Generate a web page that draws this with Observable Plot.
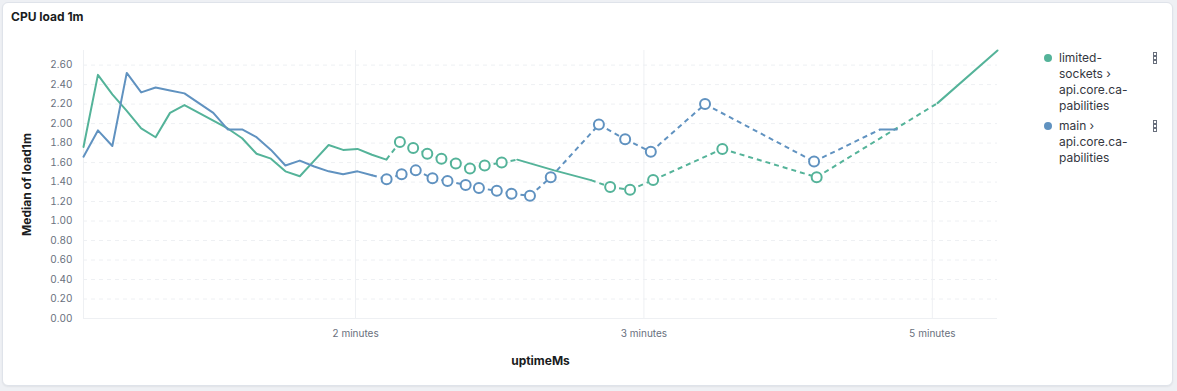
<!DOCTYPE html>
<html>
<head>
<meta charset="utf-8">
<script src="https://cdn.jsdelivr.net/npm/d3@7"></script>
<script src="https://cdn.jsdelivr.net/npm/@observablehq/plot@0.6"></script>
<style>
  html, body { margin: 0; padding: 0; }
  body { width: 1177px; height: 391px; background: #eef0f4; font-family: Inter, "Noto Sans", sans-serif; overflow: hidden; position: relative; }
  #card { position: absolute; left: 2px; top: 2px; width: 1169px; height: 382px; background: #fff; border: 1px solid #dfe3ea; border-radius: 6px; box-shadow: 0 1px 2px rgba(0,0,0,0.06); }
  #title { position: absolute; left: 8px; top: 6px; font-size: 12px; font-weight: 700; color: #1a1c21; }
  #chart { position: absolute; left: -3px; top: 27px; }
  #legend { position: absolute; left: 1036px; top: 47px; width: 130px; font-size: 12px; color: #343741; line-height: 16px; }
  .item { position: relative; padding-left: 20px; margin-bottom: 4px; }
  .swatch { position: absolute; left: 5px; top: 4px; width: 8px; height: 8px; border-radius: 50%; }
  .menu { position: absolute; left: 114px; top: 2px; width: 4px; }
  .menu i { display: block; width: 2px; height: 2px; border: 1px solid #69707d; margin-bottom: 0px; }
</style>
</head>
<body>
<div id="card">
  <div id="title">CPU load 1m</div>
  <div id="chart"></div>
  <div id="legend"></div>
</div>
<script>
// ---- data (uptimeMs, median load1m); null marks a missing bucket ----
const seriesNames = ["limited-sockets › api.core.capabilities", "main › api.core.capabilities"];
const legendLines = [["limited-", "sockets ›", "api.core.ca-", "pabilities"], ["main ›", "api.core.ca-", "pabilities"]];
const seriesColors = ["#54B399", "#6092C0"];

const limitedX = [5700, 10700, 15700, 20700, 25700, 30700, 35700, 40700, 45700, 50700, 55700, 60700, 65700, 70700, 75700, 80700, 85700, 90700, 95700, 100700, 105700, 110700,
  null, 115400, null, 120000, null, 124900, null, 129800, null, 134800, null, 139700, null, 144800, null, 150700, null,
  156100, 168900, 181600, null,
  188300, null, 195200, null, 203200, null, 227200, null, 259900, null,
  301800, 322600];
const limitedY = [1.76, 2.50, 2.30, 2.13, 1.95, 1.86, 2.11, 2.19, 2.11, 2.03, 1.95, 1.85, 1.69, 1.64, 1.51, 1.46, 1.62, 1.78, 1.73, 1.74, 1.68, 1.63,
  null, 1.81, null, 1.75, null, 1.69, null, 1.64, null, 1.59, null, 1.54, null, 1.57, null, 1.60, null,
  1.63, 1.52, 1.42, null,
  1.35, null, 1.32, null, 1.42, null, 1.74, null, 1.45, null,
  2.21, 2.75];

const mainX = [5700, 10700, 15700, 20700, 25700, 30700, 35700, 40700, 45700, 50700, 55700, 60700, 65700, 70700, 75700, 80700, 85700, 90700, 95700, 100700, 105700,
  null, 110800, null, 116000, null, 120900, null, 126700, null, 131900, null, 138200, null, 142800, null, 149000, null, 154100, null, 160500, null, 167700, null,
  184400, null, 193500, null, 202400, null, 221200, null, 259000, null,
  281900, 287700];
const mainY = [1.66, 1.93, 1.77, 2.52, 2.32, 2.37, 2.34, 2.31, 2.21, 2.11, 1.94, 1.94, 1.86, 1.73, 1.57, 1.62, 1.56, 1.51, 1.48, 1.51, 1.47,
  null, 1.43, null, 1.48, null, 1.52, null, 1.44, null, 1.41, null, 1.37, null, 1.34, null, 1.31, null, 1.28, null, 1.26, null, 1.45, null,
  1.99, null, 1.84, null, 1.71, null, 2.20, null, 1.61, null,
  1.94, 1.94];

const yTicks = [0, 0.2, 0.4, 0.6, 0.8, 1.0, 1.2, 1.4, 1.6, 1.8, 2.0, 2.2, 2.4, 2.6];
const xTicks = [100000, 200000, 300000];
const xTickLabels = ["2 minutes", "3 minutes", "5 minutes"];

// ---- build solid runs, dashed gap links, isolated points ----
function build(name, xs, ys) {
  const pts = xs.map((x, i) => ({series: name, x, y: ys[i]}));
  const runs = []; let cur = [];
  for (const p of pts) {
    if (p.y == null) { if (cur.length) runs.push(cur); cur = []; }
    else cur.push(p);
  }
  if (cur.length) runs.push(cur);
  const links = [];
  for (let i = 1; i < runs.length; i++) {
    const a = runs[i - 1][runs[i - 1].length - 1], b = runs[i][0];
    links.push({series: name, x1: a.x, y1: a.y, x2: b.x, y2: b.y});
  }
  const singles = runs.filter(r => r.length === 1).map(r => r[0]);
  return {pts, links, singles};
}
const A = build(seriesNames[0], limitedX, limitedY);
const B = build(seriesNames[1], mainX, mainY);
const allPts = [...A.pts, ...B.pts];
const valid = allPts.filter(d => d.y != null);
const xDomain = d3.extent(valid, d => d.x);
const yMax = d3.max(valid, d => d.y);

const gridColor = "#eef0f3";
const tickColor = "#69707d";

const chart = Plot.plot({
  width: 1000,
  height: 345,
  marginLeft: 83,
  marginRight: 3,
  marginTop: 20,
  marginBottom: 57,
  style: {fontFamily: "Inter, 'Noto Sans', sans-serif", background: "transparent", overflow: "visible"},
  x: {type: "linear", domain: xDomain},
  y: {domain: [0, yMax]},
  color: {domain: seriesNames, range: seriesColors},
  marks: [
    Plot.ruleY(yTicks, {stroke: gridColor, strokeWidth: 1, strokeDasharray: "4,4"}),
    Plot.ruleX(xTicks, {stroke: gridColor, strokeWidth: 1}),
    Plot.ruleX([xDomain[0]], {stroke: gridColor, strokeWidth: 1}),
    Plot.ruleY([0], {stroke: gridColor, strokeWidth: 1}),
    Plot.axisY(yTicks, {tickSize: 0, tickPadding: 11, tickFormat: d => d.toFixed(2), fontSize: 10, color: tickColor, label: null}),
    Plot.axisX(xTicks, {tickSize: 0, tickPadding: 11, tickFormat: (d, i) => xTickLabels[i], fontSize: 10, color: tickColor, label: null}),
    Plot.text(["uptimeMs"], {frameAnchor: "bottom", dy: 43, lineAnchor: "middle", fontSize: 12, fontWeight: 700, fill: "#1a1c21"}),
    Plot.text(["Median of load1m"], {frameAnchor: "left", dx: -56, rotate: -90, lineAnchor: "middle", textAnchor: "middle", fontSize: 12, fontWeight: 700, fill: "#1a1c21"}),
    Plot.link([...A.links, ...B.links], {x1: "x1", y1: "y1", x2: "x2", y2: "y2", stroke: "series", strokeWidth: 2, strokeDasharray: "5,4"}),
    Plot.line(allPts, {x: "x", y: "y", z: "series", stroke: "series", strokeWidth: 2, curve: "linear"}),
    Plot.dot([...A.singles, ...B.singles], {x: "x", y: "y", r: 5, stroke: "series", fill: "white", strokeWidth: 2})
  ]
});
document.getElementById("chart").appendChild(chart);

// ---- legend ----
const legend = document.getElementById("legend");
seriesNames.forEach((name, i) => {
  const item = document.createElement("div");
  item.className = "item";
  item.innerHTML = `<span class="swatch" style="background:${seriesColors[i]}"></span>` +
    legendLines[i].join("<br>") +
    `<span class="menu"><i></i><i></i><i></i></span>`;
  item.title = name;
  legend.appendChild(item);
});
</script>
</body>
</html>
